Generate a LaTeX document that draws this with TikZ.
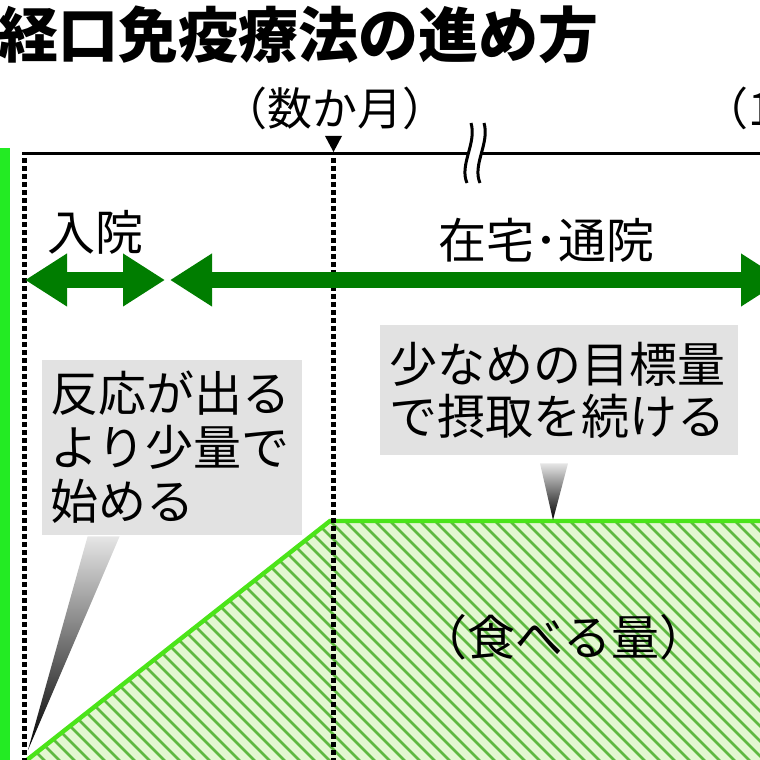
\documentclass[tikz,border=0pt]{standalone}
\usepackage{fontspec}
\setmainfont{Noto Sans CJK JP}
\usetikzlibrary{arrows.meta,calc}
\definecolor{bargreen}{RGB}{35,235,35}
\definecolor{stepgreen}{RGB}{0,125,0}
\definecolor{lightgreen}{RGB}{228,247,210}
\definecolor{hatchgreen}{RGB}{95,185,65}
\definecolor{edgegreen}{RGB}{75,228,25}
\definecolor{notegray}{RGB}{226,226,226}

\tikzset{
    phaseline/.style={line width=2.5pt, dash pattern=on 2.5pt off 1.5pt},
    stayarrow/.style={line width=8pt, stepgreen,
        {Triangle[length=21pt,width=25pt]}-{Triangle[length=21pt,width=25pt]}},
    notebox/.style={fill=notegray, align=left, inner xsep=4pt, inner ysep=0pt}
}

\begin{document}
\begin{tikzpicture}[
    x=0.5pt,
    y=0.5pt,
    line cap=butt,
    every node/.style={inner sep=0pt, font=\fontsize{24}{27}\selectfont}
]

\clip (0,0) rectangle (760,760);

% Title
\node[anchor=west, font=\fontsize{30}{30}\selectfont\bfseries] (title)
      at (-2,725) {経口免疫療法の進め方};

% Green bar on the left
\fill[bargreen] (0,0) rectangle (10,612);

% Amount eaten: background
\fill[lightgreen] (27,0) -- (330,239) -- (770,239) -- (770,0) -- cycle;

% Hatching
\begin{scope}
\clip (27,0) -- (330,239) -- (770,239) -- (770,0) -- cycle;
\foreach \x in {-240,-225,...,780}{
    \draw[hatchgreen, line width=1.3pt] (\x,239) -- ++(240,-240);
}
\end{scope}

% Upper edge of the amount
\draw[edgegreen, line width=2.2pt] (27,0) -- (330,239) -- (770,239);

% Time axis
\draw[line width=1.5pt] (22,606) -- (770,606);

% Break of the axis
\fill[white] (467,577) .. controls (459,595) and (477,617) .. (471,637)
      -- (484,637) .. controls (490,617) and (472,595) .. (480,577) -- cycle;
\draw[line width=1.5pt]
      (467,577) .. controls (459,595) and (477,617) .. (471,637)
      (480,577) .. controls (472,595) and (490,617) .. (484,637);

% Marker after some months
\fill (325,624) -- (342,624) -- (333.5,608) -- cycle;

% Dotted phase borders
\draw[phaseline] (24,602) -- (24,0);
\draw[phaseline] (333,602) -- (333,0);

% Period labels
\node[font=\fontsize{22.5}{22.5}\selectfont] (months) at (335,652) {（数か月）};
\node[anchor=west, font=\fontsize{22.5}{22.5}\selectfont] (year) at (703,652) {（1};

% Where the patient stays
\node (stay) at (95,528) {入院};
\node (home) at (546,520) {在宅･通院};

\coordinate (stayL) at (25,480);
\coordinate (stayR) at (165,480);
\coordinate (homeL) at (170,480);
\coordinate (homeR) at (783,480);
\draw[stayarrow] (stayL) -- (stayR);
\draw[stayarrow] (homeL) -- (homeR);

% Notes
\node[notebox, minimum width=130pt, minimum height=87.5pt, text width=122pt]
      (startnote) at (172,312.5) {反応が出る\\より少量で\\始める};
\node[notebox, minimum width=179pt, minimum height=65pt, text width=170pt,
      font=\fontsize{24}{26}\selectfont]
      (keepnote) at (559,370) {少なめの目標量\\で摂取を続ける};

% Pointers of the notes
\coordinate (startTip) at (28,10);
\coordinate (keepTip) at (553,240);
\shade[top color=gray!20, bottom color=black]
      ($(startnote.south west)+(46,-1)$) -- ($(startnote.south west)+(78,-1)$)
      -- (startTip) -- cycle;
\shade[top color=gray!20, bottom color=black]
      ($(keepnote.south)+(-19,-8)$) -- ($(keepnote.south)+(9,-8)$)
      -- (keepTip) -- cycle;

% Amount label
\node (amount) at (563,123) {（食べる量）};

\end{tikzpicture}
\end{document}
